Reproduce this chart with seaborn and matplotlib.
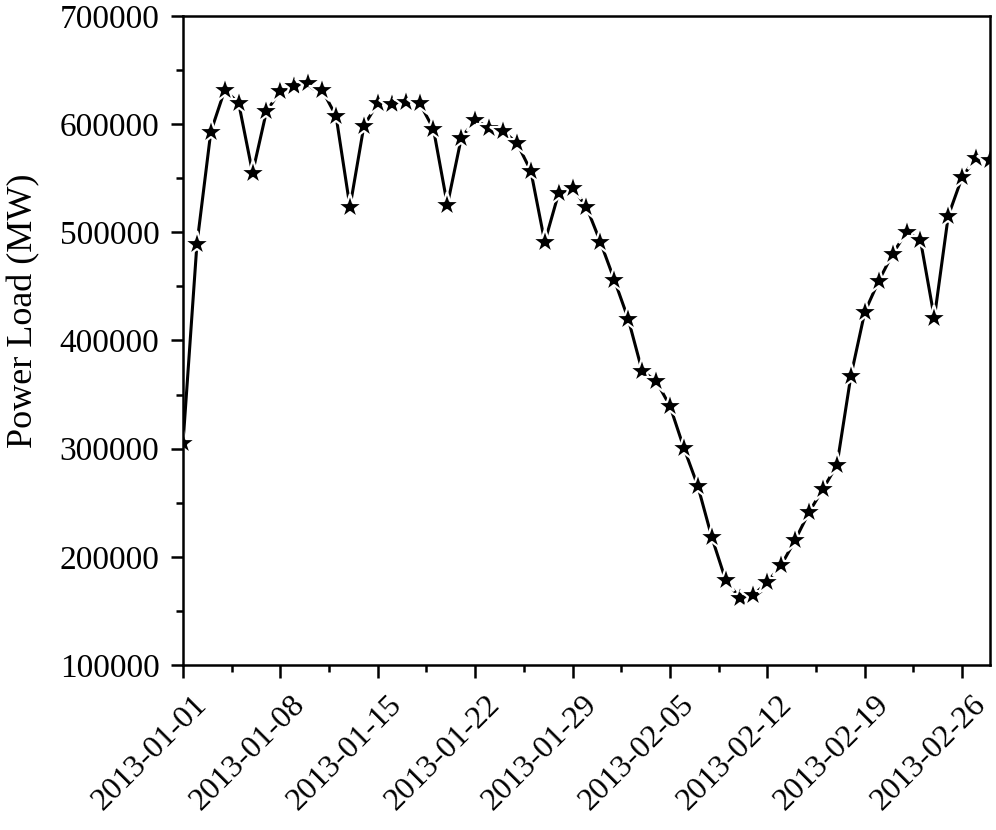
import matplotlib
matplotlib.use("Agg")
import matplotlib.pyplot as plt
import matplotlib.dates as mdates
import matplotlib.transforms as mtrans
from matplotlib.ticker import MultipleLocator, FixedLocator
import numpy as np
import pandas as pd
import seaborn as sns

start_date = "2013-01-01"
n_days = 59
load_mw = [
    305000, 489000, 593000, 631600, 619600, 555000, 612000, 630600, 635300, 638000,
    631600, 607500, 523400, 598300, 619600, 618600, 620500, 619600, 595600, 525300,
    587200, 604000, 596500, 593700, 582600, 556700, 491000, 536300, 541000, 523400,
    491000, 456000, 419900, 371800, 362600, 339400, 300600, 265500, 218300, 178600,
    162100, 164700, 176700, 192400, 215600, 241400, 262700, 284900, 367100, 426300,
    455000, 480000, 500300, 492900, 420800, 515100, 551200, 568800, 566800,
]
y_label = "Power Load (MW)"
y_ticks = [100000, 200000, 300000, 400000, 500000, 600000, 700000]

dates = pd.date_range(start_date, periods=n_days, freq="D")
df = pd.DataFrame({"date": dates, "load": load_mw})

sns.set_style("ticks")
plt.rcParams["font.family"] = ["Liberation Serif", "DejaVu Serif"]
for k in ["text.color", "axes.labelcolor", "xtick.color", "ytick.color", "axes.edgecolor"]:
    plt.rcParams[k] = "black"
plt.rcParams["xtick.direction"] = "out"
plt.rcParams["ytick.direction"] = "out"

fig = plt.figure(figsize=(9.96, 8.3), dpi=100)
ax = fig.add_axes([183/996, 1-665/830, (990-183)/996, (665-16)/830])

sns.lineplot(data=df, x="date", y="load", ax=ax, color="black", linewidth=2.2,
             marker="*", markersize=19, markerfacecolor="black",
             markeredgecolor="white", markeredgewidth=1.6)

ax.set_ylim(100000, 700000)
ax.set_xlim(pd.Timestamp("2013-01-01"), pd.Timestamp("2013-02-28"))
ax.yaxis.set_major_locator(FixedLocator(y_ticks))
ax.yaxis.set_minor_locator(MultipleLocator(50000))
ax.set_yticklabels([str(v) for v in y_ticks])

major_dates = pd.date_range(start_date, "2013-02-26", freq="7D")
ax.xaxis.set_major_locator(FixedLocator(mdates.date2num(major_dates)))
minor_dates = [mdates.date2num(d) + 3.5 for d in major_dates]
ax.xaxis.set_minor_locator(FixedLocator(minor_dates))
ax.set_xticklabels([d.strftime("%Y-%m-%d") for d in major_dates])

ax.tick_params(axis="both", which="major", length=9, width=1.8, labelsize=24, color="black")
ax.tick_params(axis="x", which="major", labelsize=23, pad=0)
ax.tick_params(axis="y", which="major", pad=8)
ax.tick_params(axis="both", which="minor", length=5, width=1.8, color="black")
ax.tick_params(top=False, right=False, which="both")

offset = mtrans.ScaledTranslation(20/100, -23/100, fig.dpi_scale_trans)
for lab in ax.get_xticklabels():
    lab.set_rotation(45)
    lab.set_ha("right")
    lab.set_va("center")
    lab.set_rotation_mode("anchor")
    lab.set_transform(lab.get_transform() + offset)

for sp in ax.spines.values():
    sp.set_visible(True)
    sp.set_linewidth(1.8)
    sp.set_color("black")

ax.set_xlabel("")
ax.set_ylabel(y_label, fontsize=26)
ax.yaxis.set_label_coords((40 - 183) / 807, (665 - 311) / 649)

fig.savefig("out.png", dpi=100)
